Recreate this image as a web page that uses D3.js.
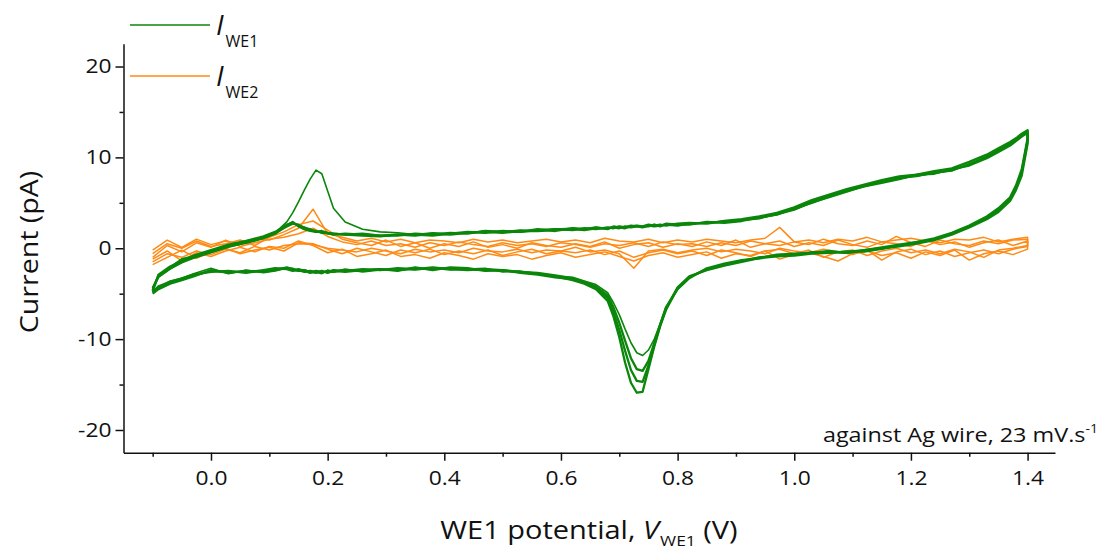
<!DOCTYPE html>
<html><head><meta charset="utf-8">
<script src="https://cdn.jsdelivr.net/npm/d3@7"></script>
<style>
body{margin:0;background:#fff}
svg{display:block}
text{font-family:"Open Sans",sans-serif;fill:#111}
</style>
</head><body>
<svg id="chart" width="1101" height="554"></svg>
<script>
// ---------- DATA ----------
const xMajorTicks = [0.0, 0.2, 0.4, 0.6, 0.8, 1.0, 1.2, 1.4];
const xMinorTicks = [-0.1, 0.1, 0.3, 0.5, 0.7, 0.9, 1.1, 1.3];
const yMajorTicks = [-20, -10, 0, 10, 20];
const yMinorTicks = [-15, -5, 5, 15];
const seriesNames = ["WE1", "WE2"];

// potential grid (V) for WE1 (green) cycles
const greenPotential = [-0.10,-0.09,-0.07,-0.05,-0.03,0.00,0.03,0.06,0.09,0.11,
  0.13,0.14,0.15,0.16,0.17,0.18,0.19,0.20,0.21,0.23,
  0.26,0.29,0.32,0.35,0.38,0.41,0.44,0.47,0.50,0.53,
  0.56,0.59,0.62,0.64,0.66,0.68,0.69,0.70,0.71,0.72,
  0.73,0.74,0.75,0.76,0.77,0.78,0.80,0.82,0.85,0.88,
  0.91,0.94,0.97,1.00,1.03,1.06,1.09,1.12,1.15,1.18,
  1.21,1.24,1.27,1.30,1.33,1.35,1.37,1.38,1.39,1.40];

// WE1 current (pA): forward (upper) and backward (lower) branches, per cycle
const green1Up = [-4.6,-2.9,-2.0,-1.4,-1.0,-0.3,0.2,0.6,1.1,1.6,
  2.5,2.9,2.4,2.1,1.9,1.8,1.8,1.6,1.6,1.5,
  1.4,1.3,1.5,1.4,1.6,1.5,1.7,1.8,1.7,1.9,
  1.9,2.0,2.1,2.0,2.2,2.2,2.3,2.2,2.4,2.3,
  2.4,2.3,2.5,2.4,2.5,2.6,2.5,2.7,2.8,2.9,
  3.1,3.3,3.8,4.3,5.1,5.8,6.4,6.9,7.3,7.7,
  8.0,8.3,8.6,9.2,10.1,10.8,11.5,12.0,12.5,12.9];
const green1Down = [-5.0,-4.5,-3.9,-3.5,-3.1,-2.4,-2.7,-2.5,-2.6,-2.4,
  -2.1,-2.3,-2.4,-2.6,-2.5,-2.6,-2.7,-2.5,-2.6,-2.4,
  -2.5,-2.3,-2.4,-2.2,-2.3,-2.2,-2.3,-2.4,-2.5,-2.6,
  -2.8,-3.1,-3.5,-3.9,-4.5,-5.8,-7.5,-9.8,-12.6,-14.8,
  -15.9,-15.8,-13.3,-10.8,-8.6,-6.8,-4.4,-3.2,-2.3,-1.8,
  -1.4,-1.0,-0.8,-0.7,-0.5,-0.4,-0.5,-0.3,0.0,0.3,
  0.6,1.0,1.6,2.4,3.3,4.2,5.4,6.6,8.4,11.8];
const green2Up = [-4.4,-3.1,-2.2,-1.5,-0.8,-0.2,0.4,0.8,1.3,1.8,
  2.6,2.8,2.5,2.3,2.0,1.9,1.7,1.7,1.5,1.6,
  1.5,1.4,1.4,1.6,1.5,1.7,1.6,1.9,1.8,1.8,
  2.0,2.1,2.0,2.2,2.1,2.3,2.2,2.4,2.3,2.5,
  2.4,2.4,2.6,2.5,2.6,2.5,2.7,2.8,2.7,3.0,
  3.2,3.5,3.9,4.5,5.3,5.9,6.5,7.0,7.5,7.9,
  8.1,8.5,8.8,9.5,10.3,11.0,11.7,12.1,12.6,13.0];
const green2Down = [-4.8,-4.2,-3.7,-3.3,-2.9,-2.6,-2.5,-2.7,-2.4,-2.2,
  -2.3,-2.5,-2.3,-2.5,-2.7,-2.5,-2.6,-2.6,-2.4,-2.5,
  -2.3,-2.4,-2.2,-2.3,-2.1,-2.3,-2.4,-2.3,-2.4,-2.7,
  -2.9,-3.2,-3.4,-3.8,-4.4,-5.5,-7.0,-9.0,-11.3,-13.4,
  -14.6,-14.7,-12.9,-10.6,-8.5,-6.6,-4.3,-3.1,-2.4,-1.9,
  -1.5,-1.1,-0.9,-0.8,-0.6,-0.5,-0.4,-0.2,0.1,0.4,
  0.7,1.1,1.7,2.5,3.5,4.4,5.6,6.9,8.7,12.1];
const green3Up = [-4.7,-3.0,-2.1,-1.2,-0.9,-0.4,0.3,0.7,1.2,1.7,
  2.4,2.7,2.6,2.2,2.1,1.8,1.9,1.7,1.6,1.5,
  1.6,1.4,1.5,1.5,1.4,1.6,1.8,1.7,1.9,1.8,
  2.1,1.9,2.2,2.1,2.3,2.1,2.4,2.3,2.2,2.4,
  2.5,2.4,2.4,2.6,2.4,2.7,2.6,2.6,2.9,2.8,
  3.0,3.4,3.7,4.4,5.0,5.7,6.3,6.8,7.2,7.6,
  8.1,8.2,8.7,9.1,9.9,10.6,11.3,11.8,12.3,12.7];
const green3Down = [-4.9,-4.4,-3.8,-3.4,-3.0,-2.5,-2.6,-2.6,-2.5,-2.3,
  -2.2,-2.4,-2.5,-2.4,-2.6,-2.7,-2.5,-2.7,-2.5,-2.6,
  -2.4,-2.3,-2.5,-2.1,-2.4,-2.1,-2.2,-2.5,-2.4,-2.6,
  -2.7,-3.0,-3.3,-3.7,-4.2,-5.2,-6.5,-8.2,-10.2,-12.1,
  -13.3,-13.5,-12.4,-10.4,-8.4,-6.5,-4.5,-3.3,-2.2,-1.7,
  -1.3,-1.1,-0.7,-0.6,-0.5,-0.3,-0.5,-0.2,0.0,0.2,
  0.5,0.9,1.5,2.3,3.2,4.0,5.2,6.4,8.0,11.5];
const green4Up = [-4.3,-3.2,-2.3,-1.6,-1.1,-0.5,0.1,0.6,1.1,1.7,
  2.9,3.9,5.1,6.4,7.6,8.6,8.2,6.3,4.4,2.9,
  2.1,1.8,1.7,1.5,1.7,1.6,1.7,1.9,1.8,2.0,
  1.9,2.1,2.2,2.1,2.3,2.2,2.3,2.4,2.3,2.4,
  2.5,2.3,2.5,2.6,2.5,2.7,2.6,2.7,2.8,3.0,
  3.1,3.3,3.7,4.2,5.0,5.6,6.2,6.8,7.3,7.8,
  7.9,8.3,8.5,9.3,10.0,10.7,11.4,11.9,12.4,12.8];
const green4Down = [-4.7,-4.3,-3.6,-3.3,-2.8,-2.2,-2.8,-2.4,-2.7,-2.5,
  -2.2,-2.2,-2.5,-2.4,-2.6,-2.6,-2.8,-2.4,-2.6,-2.3,
  -2.6,-2.4,-2.3,-2.4,-2.2,-2.4,-2.3,-2.2,-2.6,-2.5,
  -2.8,-3.1,-3.2,-3.6,-4.0,-4.9,-6.0,-7.3,-8.9,-10.4,
  -11.5,-11.8,-11.2,-10.0,-8.3,-6.6,-4.4,-3.2,-2.3,-1.8,
  -1.4,-1.0,-0.8,-0.7,-0.4,-0.5,-0.3,-0.4,-0.1,0.3,
  0.6,1.0,1.6,2.4,3.4,4.3,5.5,6.7,8.5,12.0];

// potential grid (V) for WE2 (orange) cycles
const orangePotential = [-0.100,-0.075,-0.050,-0.025,0.000,0.025,0.050,0.075,0.100,0.125,
  0.150,0.175,0.200,0.225,0.250,0.275,0.300,0.325,0.350,0.375,
  0.400,0.425,0.450,0.475,0.500,0.525,0.550,0.575,0.600,0.625,
  0.650,0.675,0.700,0.725,0.750,0.775,0.800,0.825,0.850,0.875,
  0.900,0.925,0.950,0.975,1.000,1.025,1.050,1.075,1.100,1.125,
  1.150,1.175,1.200,1.225,1.250,1.275,1.300,1.325,1.350,1.375,1.400];

// WE2 current (pA)
const orange1Up = [-0.2,0.9,0.1,1.0,0.4,0.8,0.5,1.1,0.9,1.5,
  2.2,4.3,1.6,1.2,0.8,1.1,0.7,1.0,0.6,0.9,
  0.8,0.6,1.0,0.7,0.9,0.6,0.8,1.0,0.7,0.9,
  0.6,1.1,0.8,0.7,1.0,0.6,0.9,0.7,1.0,0.8,
  0.6,0.9,1.1,2.3,0.7,0.9,0.6,1.0,0.8,1.2,
  0.7,0.9,1.1,0.8,0.6,1.0,0.9,1.2,0.7,1.0,1.2];
const orange1Down = [-1.5,-0.6,-1.0,-0.3,-0.7,-0.1,-0.5,0.2,-0.2,0.3,
  0.5,0.4,0.0,-0.2,-0.4,0.0,-0.3,-0.6,-0.1,-0.4,
  -0.2,-0.5,0.0,-0.3,-0.4,-0.1,-0.5,-0.2,-0.3,0.1,
  -0.4,-0.2,-0.6,-2.2,-0.3,-0.1,-0.5,-0.2,0.0,-0.4,
  -0.1,-0.3,-0.6,0.0,-0.3,-0.5,-0.1,-0.4,-0.2,-0.8,
  -0.3,0.0,-0.5,-0.2,-0.6,-0.1,-0.4,-1.0,-0.2,0.0,0.3];
const orange2Up = [-1.0,0.3,-0.4,0.6,0.1,0.9,0.2,0.6,1.0,1.2,
  1.6,2.2,1.3,0.7,0.4,0.8,0.3,0.5,0.1,0.6,
  0.3,0.7,0.4,0.2,0.6,0.3,0.5,0.2,0.6,0.4,
  0.1,0.5,0.3,0.6,0.2,0.7,0.4,0.5,0.2,0.6,
  0.3,0.8,0.5,0.3,0.7,0.4,1.0,0.5,0.3,0.8,
  0.4,1.3,0.6,0.2,0.9,0.5,0.3,0.8,0.5,0.9,1.0];
const orange2Down = [-1.8,-1.0,-0.2,-1.1,-0.4,0.0,-0.6,-0.2,0.1,-0.3,
  0.6,0.5,-0.1,-0.6,0.0,-0.4,-0.8,-0.2,-0.5,-0.1,
  -0.7,-0.3,-0.6,-0.2,-0.8,-0.4,-0.1,-0.6,-0.3,-0.5,
  -0.2,-0.7,-0.3,-1.0,-0.5,-0.2,-0.6,-0.3,-0.8,-0.2,
  -0.5,-0.9,-0.3,-0.1,-0.6,-0.2,-1.0,-0.4,-0.7,-0.2,
  -1.3,-0.4,-0.1,-0.7,-0.3,-0.9,-0.5,-0.2,-0.6,-0.1,0.2];
const orange3Up = [-0.6,0.5,0.0,0.8,0.2,0.5,0.9,0.3,1.2,1.8,
  2.6,3.0,2.0,1.0,0.6,0.3,0.9,0.2,0.6,0.0,
  0.5,0.2,0.7,0.1,0.4,0.0,0.6,0.3,0.1,0.5,
  0.2,0.7,0.0,0.4,0.6,0.1,0.5,0.2,0.7,0.3,
  0.9,0.1,0.5,0.8,0.2,0.6,0.3,0.9,0.4,0.1,
  0.7,0.5,0.2,0.9,0.4,0.7,0.1,0.6,0.9,0.3,0.8];
const orange3Down = [-1.2,-0.3,-1.4,-0.5,-0.9,-0.3,0.1,-0.4,0.2,0.0,
  0.8,0.3,-0.5,-0.1,-0.9,-0.6,-0.2,-0.9,-0.7,-1.1,
  -0.5,-0.8,-1.2,-0.6,-0.9,-0.7,-1.2,-0.8,-0.5,-1.0,
  -0.7,-0.4,-0.9,-1.4,-0.8,-0.5,-1.0,-0.7,-0.4,-1.1,
  -0.6,-0.8,-0.3,-1.2,-0.7,-0.5,-0.9,-1.4,-0.6,-0.3,
  -0.8,-0.5,-1.1,-0.4,-0.8,-0.2,-1.3,-0.6,-0.3,-0.7,-0.1];

// ---------- CHART ----------
const GREEN = "#0a860a", ORANGE = "#ff8a14";
const STRETCH = 1.14;   // reference glyphs are wider than Open Sans
const svg = d3.select("#chart");
const x = d3.scaleLinear().domain([-0.15, 1.447]).range([123.5, 1055]);
const y = d3.scaleLinear().domain([-22.5, 22.5]).range([452.7, 43.8]);

function loop(pot, up, down) {
  const fwd = pot.map((v, i) => [v, up[i]]);
  const back = pot.map((v, i) => [v, down[i]]).reverse();
  return fwd.concat(back);
}
const line = d3.line().x(d => x(d[0])).y(d => y(d[1]));

const orangeCycles = [
  loop(orangePotential, orange1Up, orange1Down),
  loop(orangePotential, orange2Up, orange2Down),
  loop(orangePotential, orange3Up, orange3Down)];
const greenCycles = [
  loop(greenPotential, green1Up, green1Down),
  loop(greenPotential, green2Up, green2Down),
  loop(greenPotential, green3Up, green3Down),
  loop(greenPotential, green4Up, green4Down)];

svg.append("g").selectAll("path").data(orangeCycles).join("path")
  .attr("d", line).attr("fill", "none").attr("stroke", ORANGE)
  .attr("stroke-width", 1.5).attr("stroke-linejoin", "round");
svg.append("g").selectAll("path").data(greenCycles).join("path")
  .attr("d", line).attr("fill", "none").attr("stroke", GREEN)
  .attr("stroke-width", (d, i) => i === 3 ? 1.6 : 2.3).attr("stroke-linejoin", "round");

// axes
const xAxisY = y.range()[0];
svg.append("g").attr("transform", `translate(0,${xAxisY})`)
  .call(d3.axisBottom(x).tickValues(xMajorTicks).tickFormat(d3.format(".1f"))
    .tickSize(8).tickSizeOuter(0).tickPadding(10));
svg.append("g").attr("transform", `translate(0,${xAxisY})`)
  .call(d3.axisBottom(x).tickValues(xMinorTicks).tickFormat("").tickSize(4).tickSizeOuter(0))
  .select(".domain").remove();
svg.append("g").attr("transform", `translate(${x.range()[0]},0)`)
  .call(d3.axisLeft(y).tickValues(yMajorTicks).tickFormat(d => String(d))
    .tickSize(8).tickSizeOuter(0).tickPadding(4));
svg.append("g").attr("transform", `translate(${x.range()[0]},0)`)
  .call(d3.axisLeft(y).tickValues(yMinorTicks).tickFormat("").tickSize(4).tickSizeOuter(0))
  .select(".domain").remove();
svg.selectAll(".domain, .tick line").attr("stroke", "#111").attr("stroke-width", 1.5);
svg.selectAll(".tick text")
  .attr("font-size", 20).attr("font-family", "'Open Sans',sans-serif").attr("fill", "#111")
  .each(function () {
    const t = d3.select(this);
    const tx = +t.attr("x") || 0;
    t.attr("x", tx / STRETCH).attr("transform", `scale(${STRETCH},1)`);
  });

// axis titles
svg.append("text").attr("transform", `translate(38,252) rotate(-90) scale(1.1,1)`)
  .attr("text-anchor", "middle").attr("font-size", 26).text("Current (pA)");
const xt = svg.append("text").attr("transform", `translate(589,539) scale(1.16,1)`)
  .attr("text-anchor", "middle").attr("font-size", 25);
xt.append("tspan").text("WE1 potential, ");
xt.append("tspan").attr("font-style", "italic").text("V");
xt.append("tspan").attr("font-size", 15).attr("dy", 7).attr("dx", 1).text("WE1");
xt.append("tspan").attr("dy", -7).text(" (V)");

// annotation
const an = svg.append("text").attr("transform", `translate(1098,442) scale(1.17,1)`)
  .attr("text-anchor", "end").attr("font-size", 20);
an.append("tspan").text("against Ag wire, 23 mV.s");
an.append("tspan").attr("font-size", 12).attr("dy", -9).text("-1");

// legend
const legendColors = [GREEN, ORANGE];
const lg = svg.append("g").selectAll("g").data(seriesNames).join("g")
  .attr("transform", (d, i) => `translate(0,${25 + i * 51})`);
lg.append("line").attr("x1", 130).attr("x2", 210).attr("y1", 0).attr("y2", 0)
  .attr("stroke", (d, i) => legendColors[i]).attr("stroke-width", 1.6);
const lt = lg.append("text").attr("x", 216).attr("y", 10).attr("font-size", 28);
lt.append("tspan").attr("font-style", "italic").text("I");
lt.append("tspan").attr("font-size", 16).attr("dy", 12).attr("dx", 2).text(d => d);
</script>
</body></html>
